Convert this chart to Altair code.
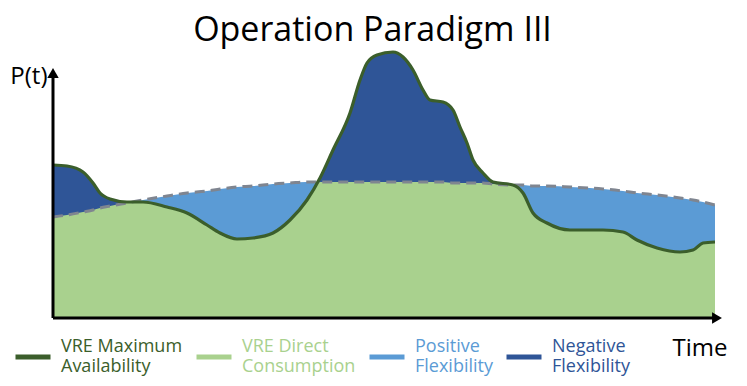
import altair as alt
import pandas as pd

# ---- data (arbitrary power / time units) ----
TIME = [0, 14, 30, 40, 47, 57, 74, 90, 114, 134, 154, 167, 184, 200, 220, 237, 254,
        267, 280, 297, 307, 314, 324, 340, 350, 360, 370, 377, 390, 400, 407, 414,
        420, 430, 440, 460, 470, 480, 494, 517, 550, 570, 584, 604, 627, 640, 650, 662]
VRE_MAX = [153, 152, 146, 135, 125, 119, 116, 116, 111, 105, 93, 85, 79, 80, 85, 98, 118,
           140, 168, 205, 238, 255, 263, 266, 261, 248, 228, 218, 216, 208, 191, 175,
           158, 145, 136, 133, 125, 105, 95, 88, 88, 86, 78, 70, 66, 68, 75, 76]
DEMAND = [101, 103, 106, 108, 110, 112, 115, 118, 122, 125, 127, 129, 131, 132, 134, 135, 136,
          136, 136, 136, 136, 136, 136, 136, 136, 136, 136, 136, 136, 135, 135, 135,
          135, 135, 134, 133, 133, 132, 132, 131, 129, 127, 125, 123, 120, 118, 116, 113]

SERIES = ["VRE Maximum|Availability", "VRE Direct|Consumption",
          "Positive|Flexibility", "Negative|Flexibility"]
COLORS = ["#3b5e2b", "#a9d18e", "#5b9bd5", "#2f5597"]

X_MAX = 669       # end of the time axis (arrow tip)
Y_MAX = 268       # top of the plotting range
Y_AXIS_TOP = 250  # tip of the P(t) arrow

df = pd.DataFrame({"t": TIME, "vre": VRE_MAX, "demand": DEMAND})
df["series"] = SERIES[0]

axes_df = pd.DataFrame({
    "t": [0, 0], "vre": [0, 0],
    "t_end": [0, X_MAX - 5], "v_end": [Y_AXIS_TOP - 5, 0],
})
heads_df = pd.DataFrame({
    "t": [0, X_MAX - 5], "vre": [Y_AXIS_TOP - 5, 0],
    "shape": ["triangle-up", "triangle-right"],
})

FONT = "Open Sans"

X_AXIS = alt.Axis(domain=False, ticks=False, labels=False, grid=False,
                  title="Time", titleX=619, titleY=37, titleAlign="left",
                  titleBaseline="alphabetic", titleFontSize=24, titleFont=FONT,
                  titleFontWeight="normal", titleColor="#000000")
Y_AXIS = alt.Axis(domain=False, ticks=False, labels=False, grid=False,
                  title="P(t)", titleX=-6, titleY=33, titleAngle=0,
                  titleAlign="right", titleBaseline="alphabetic",
                  titleFontSize=24, titleFont=FONT, titleFontWeight="normal",
                  titleColor="#000000")

X = alt.X("t:Q", scale=alt.Scale(domain=[0, X_MAX], nice=False, zero=False), axis=X_AXIS)


def Y(field):
    return alt.Y(field, scale=alt.Scale(domain=[0, Y_MAX], nice=False), axis=Y_AXIS)


base = alt.Chart(df)

pos_flex = base.mark_area(color=COLORS[2], interpolate="monotone").encode(
    x=X, y=Y("demand:Q"))
neg_flex = base.mark_area(color=COLORS[3], interpolate="monotone").encode(
    x=X, y=Y("vre:Q"))
direct = base.transform_calculate(lo="min(datum.vre, datum.demand)").mark_area(
    color=COLORS[1], interpolate="monotone").encode(x=X, y=Y("lo:Q"))
demand_line = base.mark_line(color="#7f8590", strokeWidth=3, strokeDash=[10, 6],
                             interpolate="monotone").encode(x=X, y=Y("demand:Q"))
vre_line = base.mark_line(strokeWidth=3.2, interpolate="monotone").encode(
    x=X, y=Y("vre:Q"),
    color=alt.Color("series:N",
                    scale=alt.Scale(domain=SERIES, range=COLORS),
                    legend=alt.Legend(title=None, orient="none", direction="horizontal",
                                      legendX=-40, legendY=287, padding=0,
                                      symbolType="stroke", symbolSize=1225,
                                      symbolStrokeWidth=5, labelOffset=8,
                                      columnPadding=3, labelFont=FONT,
                                      labelFontSize=18, labelBaseline="line-bottom",
                                      labelLimit=200,
                                      labelExpr="split(datum.label, '|')",
                                      labelColor={"expr": "scale('color', datum.value)"})))

axis_rules = alt.Chart(axes_df).mark_rule(color="#000000", strokeWidth=3).encode(
    x=X, y=Y("vre:Q"), x2="t_end:Q", y2="v_end:Q")
arrow_heads = alt.Chart(heads_df).mark_point(filled=True, color="#000000", size=130,
                                             opacity=1).encode(
    x=X, y=Y("vre:Q"), shape=alt.Shape("shape:N", scale=None))

chart = alt.layer(pos_flex, neg_flex, direct, demand_line, vre_line, axis_rules,
                  arrow_heads).properties(
    width=X_MAX, height=Y_MAX,
    title=alt.TitleParams("Operation Paradigm III", font=FONT, fontSize=34,
                          fontWeight="normal", color="#000000", anchor="middle",
                          baseline="alphabetic", offset=9, dx=-15, dy=38),
    autosize=alt.AutoSizeParams(type="none"),
    padding={"left": 45, "top": 42, "right": 15, "bottom": 60},
).configure_view(stroke=None)

chart.save("out.html", embed_options={"renderer": "svg", "actions": False})
